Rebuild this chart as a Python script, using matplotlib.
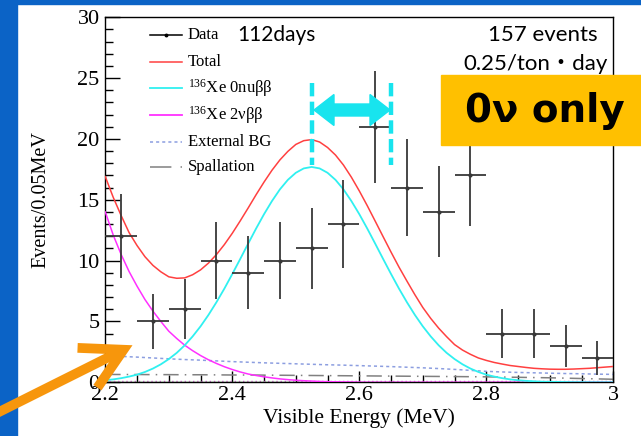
import numpy as np
import matplotlib
matplotlib.use("Agg")
import matplotlib.pyplot as plt
from matplotlib.patches import Rectangle, Polygon, FancyArrowPatch
from matplotlib.lines import Line2D
from matplotlib.ticker import MultipleLocator, FixedLocator

plt.rcParams['font.family'] = ['Liberation Serif', 'DejaVu Serif']
plt.rcParams['mathtext.fontset'] = 'custom'
plt.rcParams['mathtext.rm'] = 'Liberation Serif'
plt.rcParams['mathtext.it'] = 'Liberation Serif:italic'

# ---------------- data ----------------
bin_centers = [2.225, 2.275, 2.325, 2.375, 2.425, 2.475, 2.525, 2.575,
               2.625, 2.675, 2.725, 2.775, 2.825, 2.875, 2.925, 2.975]
counts = [12, 5, 6, 10, 9, 10, 11, 13, 21, 16, 14, 17, 4, 4, 3, 2]
bin_half_width = 0.025

# fine energy grid for the peaked curves
energy_fine = [2.2000, 2.2125, 2.2250, 2.2375, 2.2500, 2.2625, 2.2750, 2.2875,
               2.3000, 2.3125, 2.3250, 2.3375, 2.3500, 2.3625, 2.3750, 2.3875,
               2.4000, 2.4125, 2.4250, 2.4375, 2.4500, 2.4625, 2.4750, 2.4875,
               2.5000, 2.5125, 2.5250, 2.5375, 2.5500, 2.5625, 2.5750, 2.5875,
               2.6000, 2.6125, 2.6250, 2.6375, 2.6500, 2.6625, 2.6750, 2.6875,
               2.7000, 2.7125, 2.7250, 2.7375, 2.7500, 2.7625, 2.7750, 2.7875,
               2.8000, 2.8125, 2.8250, 2.8375, 2.8500, 2.8625, 2.8750, 2.8875,
               2.9000, 2.9125, 2.9250, 2.9375, 2.9500, 2.9625, 2.9750, 2.9875,
               3.0000]
total_fit = [16.9, 15.2, 13.7, 12.3, 11.24, 10.32, 9.61, 9.08,
             8.67, 8.55, 8.58, 8.84, 9.24, 9.80, 10.5, 11.32,
             12.25, 13.27, 14.33, 15.42, 16.46, 17.43, 18.28, 18.98,
             19.55, 19.86, 19.95, 19.75, 19.3, 18.68, 17.86, 16.86,
             15.73, 14.52, 13.25, 11.97, 10.7, 9.47, 8.32, 7.2,
             6.15, 5.25, 4.45, 3.75, 3.1, 2.65, 2.3, 2.0,
             1.8, 1.63, 1.5, 1.38, 1.3, 1.22, 1.15, 1.11,
             1.08, 1.07, 1.07, 1.09, 1.12, 1.15, 1.2, 1.25,
             1.3]
xe_0nu = [0.17, 0.24, 0.34, 0.47, 0.63, 0.85, 1.13, 1.48,
          1.91, 2.42, 3.04, 3.77, 4.60, 5.54, 6.58, 7.70,
          8.90, 10.14, 11.40, 12.64, 13.82, 14.90, 15.86, 16.64,
          17.22, 17.58, 17.70, 17.58, 17.22, 16.64, 15.86, 14.90,
          13.82, 12.64, 11.40, 10.14, 8.90, 7.70, 6.58, 5.54,
          4.60, 3.77, 3.04, 2.42, 1.91, 1.48, 1.13, 0.85,
          0.63, 0.47, 0.34, 0.24, 0.17, 0.12, 0.08, 0.05,
          0.04, 0.03, 0.02, 0.01, 0.01, 0.0, 0.0, 0.0,
          0.0]
xe_2nu = [14.0, 12.1, 10.5, 9.1, 7.9, 6.8, 5.85, 5.0,
          4.2, 3.6, 3.05, 2.6, 2.2, 1.85, 1.55, 1.28,
          1.05, 0.85, 0.68, 0.56, 0.45, 0.36, 0.28, 0.22,
          0.17, 0.13, 0.10, 0.07, 0.05, 0.04, 0.03, 0.02,
          0.01, 0.0, 0.0, 0.0, 0.0, 0.0, 0.0, 0.0,
          0.0, 0.0, 0.0, 0.0, 0.0, 0.0, 0.0, 0.0,
          0.0, 0.0, 0.0, 0.0, 0.0, 0.0, 0.0, 0.0,
          0.0, 0.0, 0.0, 0.0, 0.0, 0.0, 0.0, 0.0,
          0.0]

# coarse grid for the flat background curves
energy_grid = [2.200, 2.225, 2.250, 2.275, 2.300, 2.325, 2.350, 2.375, 2.400,
               2.425, 2.450, 2.475, 2.500, 2.525, 2.550, 2.575, 2.600, 2.625,
               2.650, 2.675, 2.700, 2.725, 2.750, 2.775, 2.800, 2.825, 2.850,
               2.875, 2.900, 2.925, 2.950, 2.975, 3.000]
external_bg = [2.20, 2.13, 2.07, 2.00, 1.93, 1.87, 1.82, 1.76, 1.70,
               1.65, 1.60, 1.56, 1.52, 1.48, 1.44, 1.41, 1.37, 1.33,
               1.29, 1.24, 1.19, 1.13, 1.06, 0.98, 0.90, 0.85, 0.81,
               0.78, 0.75, 0.72, 0.70, 0.67, 0.65]
spallation = [0.65, 0.64, 0.64, 0.63, 0.63, 0.62, 0.62, 0.61, 0.60,
              0.60, 0.59, 0.58, 0.57, 0.56, 0.55, 0.54, 0.53, 0.52,
              0.51, 0.50, 0.49, 0.48, 0.47, 0.46, 0.45, 0.43, 0.41,
              0.39, 0.37, 0.34, 0.31, 0.28, 0.25]
minor_x = [2.2, 3.0]
minor_green = [0.04, 0.04]
minor_pink = [0.08, 0.08]

x_ticks = [2.2, 2.4, 2.6, 2.8, 3.0]
x_tick_labels = ["2.2", "2.4", "2.6", "2.8", "3"]
y_ticks = [0, 5, 10, 15, 20, 25, 30]

legend_labels = ["Data", "Total", "$^{136}$Xe 0nu\u03b2\u03b2",
                 "$^{136}$Xe 2\u03bd\u03b2\u03b2", "External BG", "Spallation"]

# ---------------- colours ----------------
C_RED = '#FF4040'
C_CYAN = '#30F0F0'
C_MAG = '#FF30FF'
C_EXT = '#8C9EE0'
C_SPAL = '#808080'
C_DATA = '#383838'
C_BLUE = '#0B63C6'
C_ORANGE = '#F7960C'
C_BOX = '#FFC000'
C_ARROW = '#18E4EE'

W, H = 641, 436
fig = plt.figure(figsize=(W / 100, H / 100), dpi=100)
fig.patch.set_facecolor('white')


def fx(x):
    return x / W


def fy(y):
    return 1 - y / H


ax = fig.add_axes([fx(105.3), fy(382.3), 508 / W, 365 / H])
ax.set_xlim(2.2, 3.0)
ax.set_ylim(0, 30)

# curves
ax.plot(minor_x, minor_green, color='#33CC33', lw=1.0, zorder=2)
ax.plot(minor_x, minor_pink, color='#CC66CC', lw=1.0, ls=(0, (1, 2)), zorder=2)
ax.plot(energy_grid, spallation, color=C_SPAL, lw=1.1, ls=(0, (10, 4, 1, 4)), zorder=2)
ax.plot(energy_grid, external_bg, color=C_EXT, lw=1.1, ls=(0, (2, 2)), zorder=2)
ax.plot(energy_fine, xe_2nu, color=C_MAG, lw=1.1, zorder=3)
ax.plot(energy_fine, xe_0nu, color=C_CYAN, lw=1.3, zorder=3)
ax.plot(energy_fine, total_fit, color=C_RED, lw=1.1, zorder=4)

# data
yerr = np.sqrt(np.array(counts, dtype=float))
ax.errorbar(bin_centers, counts, xerr=bin_half_width, yerr=yerr, fmt='o',
            ms=2, color=C_DATA, ecolor=C_DATA, elinewidth=1.3, capsize=0, zorder=5)

# axes styling
for s in ax.spines.values():
    s.set_linewidth(1.0)
    s.set_color('black')
ax.xaxis.set_major_locator(FixedLocator(x_ticks))
ax.set_xticklabels(x_tick_labels)
ax.xaxis.set_minor_locator(MultipleLocator(0.05))
ax.yaxis.set_major_locator(FixedLocator(y_ticks))
ax.yaxis.set_minor_locator(MultipleLocator(1))
ax.tick_params(axis='both', which='both', direction='in', top=False, right=False,
               labelsize=16, width=1.0)
ax.tick_params(axis='y', which='major', length=11, pad=4)
ax.tick_params(axis='y', which='minor', length=6)
ax.tick_params(axis='x', which='major', length=8, pad=3)
ax.tick_params(axis='x', which='minor', length=5)

ax.set_xlabel("Visible Energy (MeV)", fontsize=15.5)
ax.set_ylabel("Events/0.05MeV", fontsize=14.5)
ax.xaxis.set_label_coords(0.5, -0.072)
ax.yaxis.set_label_coords(-0.108, 0.5)


# manual legend (axes fraction)
def axfx(x):
    return (x - 105.3) / 508


def axfy(y):
    return (382.3 - y) / 365


row_y = [35, 62.3, 88.3, 115, 141.7, 166.7]
hx0, hx1, tx = axfx(150), axfx(182), axfx(188)
styles = [dict(color='black', lw=1.1),
          dict(color=C_RED, lw=1.1),
          dict(color=C_CYAN, lw=1.3),
          dict(color=C_MAG, lw=1.3),
          dict(color=C_EXT, lw=1.1, ls=(0, (2, 2))),
          dict(color=C_SPAL, lw=1.1, ls=(0, (14, 6, 1, 4)))]
for yy, lab, st in zip(row_y, legend_labels, styles):
    ax.add_line(Line2D([hx0, hx1], [axfy(yy), axfy(yy)], transform=ax.transAxes,
                       clip_on=False, **st))
    ax.text(tx, axfy(yy), lab, transform=ax.transAxes, fontsize=12,
            va='center', ha='left')
ax.plot([(hx0 + hx1) / 2], [axfy(row_y[0])], 'o', ms=1.8, color='black',
        transform=ax.transAxes, clip_on=False)
ax.text(axfx(237), axfy(35), "112days", transform=ax.transAxes, fontsize=15,
        va='center', ha='left', family=['Lato', 'DejaVu Sans'])

# top-right info text
fig.text(fx(598), fy(35), "157 events", ha='right', va='center', fontsize=16,
         family=['Lato', 'DejaVu Sans'])
fig.text(fx(608), fy(64), "0.25/ton\u30fbday", ha='right', va='center', fontsize=16,
         family=['Lato', 'Noto Sans CJK JP', 'DejaVu Sans'])

# slide background strips
fig.add_artist(Rectangle((0, 0), fx(17), 1, transform=fig.transFigure,
                         color=C_BLUE, zorder=0))
fig.add_artist(Rectangle((0, fy(4)), 1, 4 / H, transform=fig.transFigure,
                         color=C_BLUE, zorder=0))

# "0v only" box
fig.add_artist(Rectangle((fx(441), fy(145)), (641 - 441) / W, 70 / H,
                         transform=fig.transFigure, color=C_BOX, zorder=10))
fig.text(fx(545), fy(111), "0\u03bd only", ha='center', va='center',
         fontsize=28, fontweight='bold', family=['DejaVu Sans'], zorder=11)

# cyan dashed markers and double arrow
for xx in (311.7, 390.7):
    fig.add_artist(Line2D([fx(xx), fx(xx)], [fy(83), fy(165)],
                          transform=fig.transFigure, color=C_ARROW, lw=3.2,
                          ls=(0, (3, 1.2)), zorder=9))
pts = [(314, 110), (334, 94.5), (334, 104), (370, 104), (370, 94.5), (390, 110),
       (370, 125.5), (370, 116), (334, 116), (334, 125.5)]
fig.add_artist(Polygon([(fx(a), fy(b)) for a, b in pts], closed=True,
                       transform=fig.transFigure, color=C_ARROW, zorder=9))

# orange arrow
arr = FancyArrowPatch((fx(-5), fy(414)), (fx(135), fy(344)),
                      transform=fig.transFigure,
                      arrowstyle='->,head_length=2.9,head_width=1.6',
                      mutation_scale=10, color=C_ORANGE, lw=7,
                      capstyle='butt', joinstyle='miter', zorder=12)
fig.add_artist(arr)

fig.savefig('out.png', dpi=100, facecolor='white')
